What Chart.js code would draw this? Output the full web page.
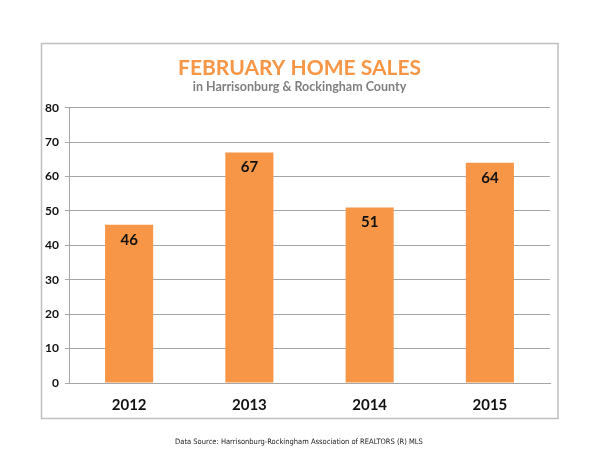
<!DOCTYPE html>
<html>
<head>
<meta charset="utf-8">
<script src="https://cdn.jsdelivr.net/npm/chart.js@4"></script>
<style>
  html, body { margin: 0; padding: 0; background: #fff; }
  #wrap { position: relative; width: 600px; height: 464px; }
  #c { position: absolute; left: 0; top: 0; }
  #footer { position: absolute; left: 0; width: 598px; top: 437px; text-align: center;
    font-family: "Liberation Sans Narrow", "DejaVu Sans Condensed", sans-serif; font-size: 7.5px; color: #222; }
</style>
</head>
<body>
<div id="wrap">
  <canvas id="c" width="600" height="464"></canvas>
  <div id="footer">Data Source: Harrisonburg-Rockingham Association of REALTORS (R) MLS</div>
</div>
<script>
const categories = ["2012", "2013", "2014", "2015"];
const sales = [46, 67, 51, 64];
const yTicks = [0, 10, 20, 30, 40, 50, 60, 70, 80];

const ORANGE = "#F79646";

const frame = {
  id: "frame",
  beforeDraw(chart) {
    const ctx = chart.ctx;
    ctx.save();
    ctx.fillStyle = "#fff";
    ctx.fillRect(0, 0, chart.width, chart.height);
    ctx.strokeStyle = "#bfbfbf";
    ctx.lineWidth = 1.5;
    ctx.strokeRect(41.5, 43.5, 516.5, 375);
    ctx.restore();
  }
};

const valueLabels = {
  id: "valueLabels",
  afterDatasetsDraw(chart) {
    const ctx = chart.ctx;
    const meta = chart.getDatasetMeta(0);
    ctx.save();
    ctx.font = "bold 15px Lato, sans-serif";
    ctx.fillStyle = "#111";
    ctx.textAlign = "center";
    ctx.textBaseline = "middle";
    meta.data.forEach((bar, i) => {
      ctx.fillText(String(chart.data.datasets[0].data[i]), bar.x, bar.y + 15);
    });
    ctx.restore();
  }
};

new Chart(document.getElementById("c"), {
  type: "bar",
  data: {
    labels: categories,
    datasets: [{
      data: sales,
      backgroundColor: ORANGE,
      borderWidth: 0,
      barPercentage: 0.4,
      categoryPercentage: 1.0
    }]
  },
  options: {
    responsive: false,
    animation: false,
    devicePixelRatio: 1,
    layout: { padding: { left: 41, right: 42, top: 44, bottom: 45 } },
    plugins: {
      legend: { display: false },
      tooltip: { enabled: false },
      title: {
        display: true,
        text: "FEBRUARY HOME SALES",
        color: ORANGE,
        font: { family: "Lato, sans-serif", size: 21, weight: "bold", lineHeight: 1.2 },
        padding: { top: 12, bottom: 0 }
      },
      subtitle: {
        display: true,
        text: "in Harrisonburg & Rockingham County",
        color: "#7f7f7f",
        font: { family: "Lato, sans-serif", size: 12.5, weight: "bold", lineHeight: 1.0 },
        padding: { top: 0, bottom: 14 }
      }
    },
    scales: {
      x: {
        grid: { display: false },
        border: { display: true, color: "#a6a6a6", width: 1 },
        ticks: { color: "#111", padding: 5, font: { family: "Lato, sans-serif", size: 15, weight: "bold" } },
        afterFit(s) { s.height = 36; }
      },
      y: {
        min: 0, max: 80,
        afterBuildTicks(s) { s.ticks = yTicks.map(v => ({ value: v })); },
        grid: { color: "#a6a6a6", lineWidth: 1, drawTicks: true, tickLength: 4 },
        border: { display: true, color: "#a6a6a6", width: 1 },
        ticks: { color: "#111", padding: 6, font: { family: "Lato, sans-serif", size: 12, weight: "bold" } },
        afterFit(s) { s.width = 28; }
      },
      y2: {
        position: "right",
        display: true,
        grid: { display: false },
        border: { display: false },
        ticks: { display: false },
        afterFit(s) { s.width = 8; }
      }
    }
  },
  plugins: [frame, valueLabels]
});
</script>
</body>
</html>
